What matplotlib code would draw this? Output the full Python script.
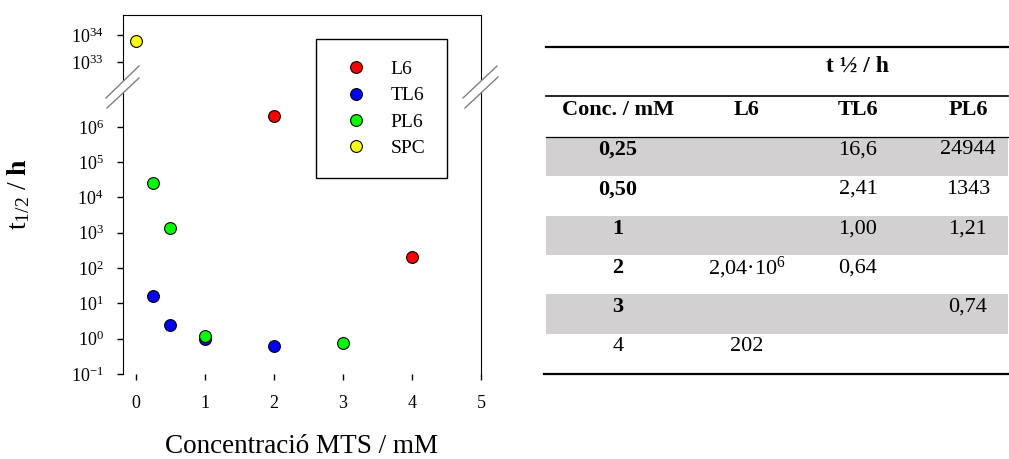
import numpy as np
import matplotlib
matplotlib.use('Agg')
import matplotlib.pyplot as plt
from matplotlib.patches import Rectangle, Polygon

plt.rcParams['font.family'] = ['Liberation Serif', 'DejaVu Serif']
plt.rcParams['mathtext.fontset'] = 'custom'
plt.rcParams['mathtext.rm'] = 'Liberation Serif'
plt.rcParams['mathtext.it'] = 'Liberation Serif:italic'
plt.rcParams['mathtext.bf'] = 'Liberation Serif:bold'

# data (t1/2 in h vs MTS concentration in mM)
conc = np.array([0.25, 0.50, 1, 2, 3, 4])
l6 = np.array([np.nan, np.nan, np.nan, 2.04e6, np.nan, 202])
tl6 = np.array([16.6, 2.41, 1.00, 0.64, np.nan, np.nan])
pl6 = np.array([24944, 1343, 1.21, np.nan, 0.74, np.nan])
spc_x = np.array([0])
spc_y = np.array([6e33])

yticks = [1e-1, 1e0, 1e1, 1e2, 1e3, 1e4, 1e5, 1e6, 1e33, 1e34]
ytick_labels = ['$10^{-1}$', '$10^{0}$', '$10^{1}$', '$10^{2}$', '$10^{3}$',
                '$10^{4}$', '$10^{5}$', '$10^{6}$', '$10^{33}$', '$10^{34}$']

# table text
col_heads = ['Conc. / mM', 'L6', 'TL6', 'PL6']
conc_txt = ['0,25', '0,50', '1', '2', '3', '4']
conc_bold = [True, True, True, True, True, False]
l6_txt = ['', '', '', '2,04·10$^{6}$', '', '202']
tl6_txt = ['16,6', '2,41', '1,00', '0,64', '', '']
pl6_txt = ['24944', '1343', '1,21', '', '0,74', '']

W, H = 1009, 459
fig = plt.figure(figsize=(W / 100, H / 100), dpi=100)
ax = fig.add_axes([123 / W, 1 - 374 / H, (481 - 123) / W, (374 - 15) / H])

# broken log axis: lower part -1..7 decades, upper part 32.3..
xp = np.array([-300.0, 7.0, 32.3, 300.0])
fp = np.array([(-300 + 1) * 35.3, 8 * 35.3, 312 + (32.3 - 33) * 27, 312 + (300 - 33) * 27])


def fwd(y):
    lv = np.log10(np.clip(y, 1e-300, None))
    return np.interp(lv, xp, fp)


def inv(h):
    return 10.0 ** np.interp(h, fp, xp)


ax.set_yscale('function', functions=(fwd, inv))

kw = dict(linestyle='none', marker='o', ms=8.5, mec='black', mew=0.8)
ax.plot(conc, l6, mfc='#ff0000', label='L6', **kw)
ax.plot(conc, tl6, mfc='#0000ff', label='TL6', **kw)
ax.plot(conc, pl6, mfc='#00ff00', label='PL6', **kw)
ax.plot(spc_x, spc_y, mfc='#ffff00', label='SPC', **kw)

ax.set_xlim(-0.188, 5.0)
ax.set_ylim(1e-1, 10 ** 34.74)
ax.set_xticks([0, 1, 2, 3, 4, 5])
ax.set_yticks(yticks)
ax.set_yticklabels(ytick_labels)
ax.yaxis.set_minor_locator(matplotlib.ticker.NullLocator())
ax.spines['bottom'].set_visible(False)
ax.tick_params(axis='x', direction='out', length=4, width=1, pad=11, labelsize=13)
ax.tick_params(axis='y', direction='out', length=4, width=1, pad=10, labelsize=13)

ax.set_xlabel('Concentració MTS / mM', fontsize=19.5, va='center')
ax.xaxis.set_label_coords(0.5, -0.203)
ax.set_ylabel(r'$\mathrm{t}_{\mathrm{1/2}}\ /\ \mathbf{h}$', fontsize=20)
ax.yaxis.set_label_coords(-0.254, 0.5)

leg = ax.legend(loc='upper left', bbox_to_anchor=(316 / W, 1 - 39 / H),
                bbox_transform=fig.transFigure, fontsize=14, fancybox=False,
                edgecolor='black', framealpha=1, borderpad=1.1, labelspacing=0.45,
                handlelength=1.9, handletextpad=0.85, borderaxespad=0)
leg.get_frame().set_linewidth(1.0)

# overlay in pixel coords for break marks and table
ov = fig.add_axes([0, 0, 1, 1])
ov.set_xlim(0, W)
ov.set_ylim(H, 0)
ov.axis('off')
ov.set_zorder(5)

for (a, b, c, d) in [((106, 98), (139, 66), (139, 78), (107, 108)),
                     ((463, 98), (497, 66), (498, 77), (465, 108))]:
    ov.add_patch(Polygon([a, b, c, d], closed=True, facecolor='white', edgecolor='none'))
    ov.plot([a[0], b[0]], [a[1], b[1]], color='#808080', lw=1.0)
    ov.plot([d[0], c[0]], [d[1], c[1]], color='#808080', lw=1.0)

# table
tx0, tx1 = 546, 1008
row_top = 137
row_h = 39.3
col_x = [618, 747, 858, 968]
for i in range(len(conc_txt)):
    if i % 2 == 0:
        ov.add_patch(Rectangle((tx0, row_top + i * row_h), tx1 - tx0, row_h,
                               facecolor='#d2d0d0', edgecolor='none'))
ov.plot([tx0, tx1], [47, 47], color='black', lw=1.6)
ov.plot([tx0, tx1], [96, 96], color='black', lw=1.2)
ov.plot([tx0, tx1], [137, 137], color='black', lw=0.9)
ov.plot([544, tx1], [374, 374], color='black', lw=1.6)

ov.text(857, 66, 't ½ / h', ha='center', va='center', fontsize=17, fontweight='bold')
for x, t in zip(col_x, col_heads):
    ov.text(x, 110, t, ha='center', va='center', fontsize=16, fontweight='bold')
for i in range(len(conc_txt)):
    y = row_top + i * row_h + 13
    ov.text(col_x[0], y, conc_txt[i], ha='center', va='center', fontsize=16,
            fontweight='bold' if conc_bold[i] else 'normal')
    for x, col in zip(col_x[1:], [l6_txt, tl6_txt, pl6_txt]):
        if col[i]:
            ov.text(x, y, col[i], ha='center', va='center', fontsize=16)

fig.savefig('out.png', dpi=100)
